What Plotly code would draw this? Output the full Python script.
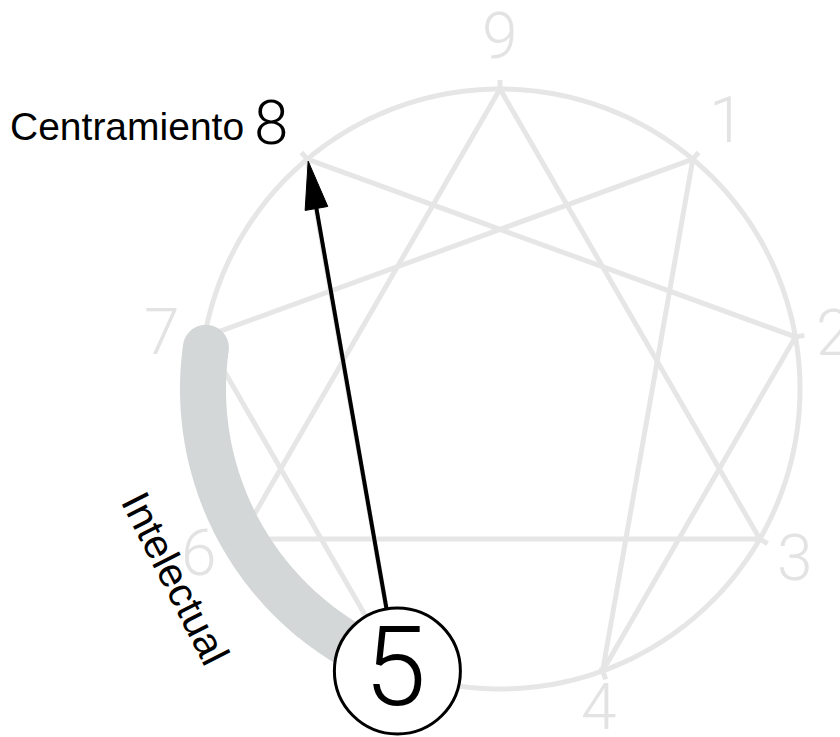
import numpy as np
import plotly.graph_objects as go

# enneagram points (label, angle in degrees, counter-clockwise from 3 o'clock)
POINT_LABELS = ["9", "1", "2", "3", "4", "5", "6", "7", "8"]
POINT_ANGLES = [90, 50, 10, -30, -70, -110, -150, 170, 130]
TRIANGLE = ["9", "3", "6", "9"]
HEXAD = ["1", "4", "2", "8", "5", "7", "1"]
ARROW_FROM = "5"
ARROW_TO = "8"
BAND_FROM_ANGLE = 172
BAND_TO_ANGLE = 245
BAND_LABEL = "Intelectual"
TARGET_LABEL = "Centramiento"

CX, CY, R = 500, 389, 300
LIGHT = "#e6e6e6"
NUM_COLOR = "#e3e3e3"
BAND_COLOR = "#d4d7d7"
NUM_FONT = "Roboto"

# where the grey point numbers sit
LABEL_XY = {"9": (500, 36), "1": (727, 120), "2": (834, 333), "3": (795, 558),
            "4": (599, 707), "6": (199, 553), "7": (162, 332)}


def pos(angle, radius=R):
    a = np.radians(angle)
    return CX + radius * np.cos(a), CY - radius * np.sin(a)


pts = {lab: pos(ang) for lab, ang in zip(POINT_LABELS, POINT_ANGLES)}
angles = dict(zip(POINT_LABELS, POINT_ANGLES))

fig = go.Figure()

# outer circle
theta = np.linspace(0, 360, 361)
cx, cy = pos(theta)
fig.add_trace(go.Scatter(x=cx, y=cy, mode="lines",
                         line=dict(color=LIGHT, width=5, simplify=False), hoverinfo="skip"))

# small radial ticks at every point
tx, ty = [], []
for lab in POINT_LABELS:
    x0, y0 = pos(angles[lab], R - 4)
    x1, y1 = pos(angles[lab], R + 9)
    tx += [x0, x1, None]
    ty += [y0, y1, None]
fig.add_trace(go.Scatter(x=tx, y=ty, mode="lines",
                         line=dict(color=LIGHT, width=5), hoverinfo="skip"))

# inner triangle and hexad
for path in (TRIANGLE, HEXAD):
    fig.add_trace(go.Scatter(
        x=[pts[p][0] for p in path], y=[pts[p][1] for p in path],
        mode="lines", line=dict(color=LIGHT, width=5), hoverinfo="skip"))

# grey band along the circle (7 -> 5)
band_t = np.linspace(BAND_FROM_ANGLE, BAND_TO_ANGLE, 150)
bx, by = pos(band_t, R - 3)
fig.add_trace(go.Scatter(x=bx, y=by, mode="lines",
                         line=dict(color=BAND_COLOR, width=46, simplify=False),
                         hoverinfo="skip"))
fig.add_trace(go.Scatter(x=[bx[0], bx[-1]], y=[by[0], by[-1]], mode="markers",
                         marker=dict(size=46, color=BAND_COLOR), hoverinfo="skip"))

# arrow 5 -> 8
sx, sy = pts[ARROW_FROM]
ex, ey = pts[ARROW_TO]
ex, ey = ex + 1, ey + 2
d = np.array([ex - sx, ey - sy])
u = d / np.linalg.norm(d)
n = np.array([-u[1], u[0]])
start = np.array([sx, sy]) + u * 62
base = np.array([ex, ey]) - u * 48
fig.add_trace(go.Scatter(x=[start[0], base[0] + u[0] * 4], y=[start[1], base[1] + u[1] * 4],
                         mode="lines", line=dict(color="black", width=4), hoverinfo="skip"))
head = [np.array([ex, ey]), base + n * 11.5, base - n * 11.5, np.array([ex, ey])]
fig.add_trace(go.Scatter(x=[p[0] for p in head], y=[p[1] for p in head],
                         mode="lines", fill="toself", fillcolor="black",
                         line=dict(color="black", width=1), hoverinfo="skip"))

# circled 5
fig.add_trace(go.Scatter(x=[sx], y=[sy], mode="markers",
                         marker=dict(size=126, color="white",
                                     line=dict(color="black", width=3)),
                         hoverinfo="skip"))

annotations = []
for lab, (lx, ly) in LABEL_XY.items():
    annotations.append(dict(x=lx, y=ly, text=lab, showarrow=False,
                            font=dict(family=NUM_FONT, size=64, color=NUM_COLOR, weight=300)))

annotations.append(dict(x=sx - 2, y=sy - 4, text=ARROW_FROM, showarrow=False,
                        font=dict(family=NUM_FONT, size=112, color="black", weight=300)))
annotations.append(dict(x=8, y=126, text=TARGET_LABEL, showarrow=False,
                        xanchor="left", yanchor="middle",
                        font=dict(family="Liberation Sans", size=39, color="black")))
annotations.append(dict(x=271, y=122, text=ARROW_TO, showarrow=False,
                        font=dict(family=NUM_FONT, size=62, color="black", weight=300)))
annotations.append(dict(x=175, y=578, text=BAND_LABEL, showarrow=False, textangle=63,
                        font=dict(family="Liberation Sans", size=41, color="black")))

fig.update_layout(
    width=840, height=737,
    margin=dict(l=0, r=0, t=0, b=0),
    paper_bgcolor="white", plot_bgcolor="white",
    showlegend=False,
    annotations=annotations,
    xaxis=dict(range=[0, 840], visible=False, fixedrange=True),
    yaxis=dict(range=[737, 0], visible=False, fixedrange=True),
)

fig.write_html("out.html", config={"displayModeBar": False},
               post_script="document.body.style.margin='0';")
